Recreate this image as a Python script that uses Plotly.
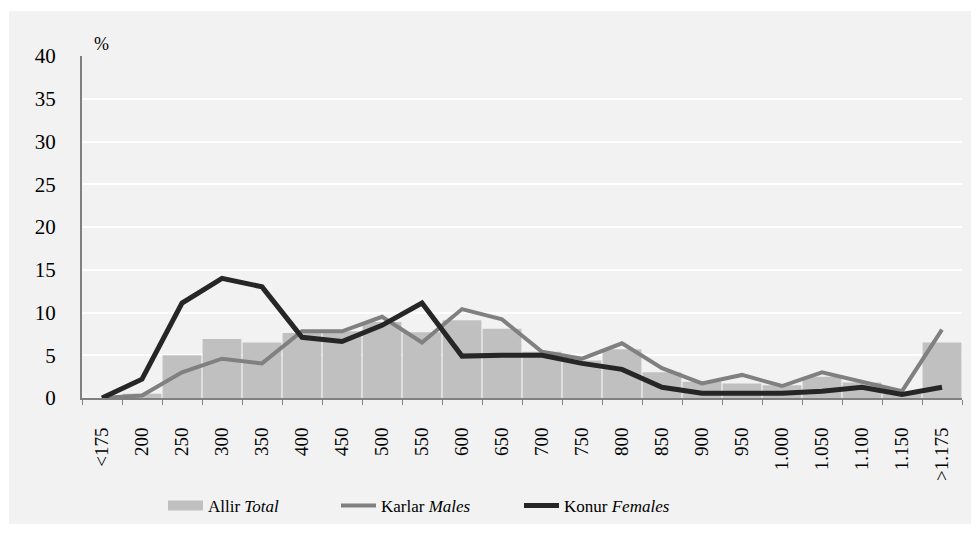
import plotly.graph_objects as go

categories = ["<175", "200", "250", "300", "350", "400", "450", "500", "550", "600", "650",
              "700", "750", "800", "850", "900", "950", "1.000", "1.050", "1.100", "1.150", ">1.175"]
total = [0.0, 0.5, 5.0, 6.9, 6.5, 7.6, 7.8, 8.9, 7.7, 9.1, 8.1,
         5.4, 4.4, 5.7, 3.0, 1.9, 1.7, 1.5, 2.5, 1.8, 0.5, 6.5]
males = [0.0, 0.3, 3.0, 4.6, 4.05, 7.8, 7.8, 9.5, 6.5, 10.4, 9.2,
         5.4, 4.6, 6.4, 3.5, 1.7, 2.7, 1.4, 3.0, 1.9, 0.8, 8.0]
females = [0.0, 2.2, 11.1, 14.0, 13.0, 7.1, 6.6, 8.5, 11.1, 4.9, 5.0,
           5.0, 4.05, 3.35, 1.25, 0.55, 0.55, 0.55, 0.8, 1.25, 0.4, 1.25]

FONT = "Liberation Serif"

fig = go.Figure()
fig.add_trace(go.Bar(x=categories, y=total, marker=dict(color="#c0c0c0", line=dict(width=0)),
                     showlegend=False, hoverinfo="y"))
fig.add_trace(go.Scatter(x=[None], y=[None], mode="lines", name="Allir <i>Total</i>",
                         line=dict(color="#c0c0c0", width=10), legendwidth=123))
fig.add_trace(go.Scatter(x=categories, y=males, mode="lines", name="Karlar <i>Males</i>",
                         line=dict(color="#808080", width=4), legendwidth=133))
fig.add_trace(go.Scatter(x=categories, y=females, mode="lines", name="Konur <i>Females</i>",
                         line=dict(color="#262626", width=5), legendwidth=126))

# page has an 8px body margin; figure is placed at (8, 8)
OFF = 8
W, H = 979 - OFF, 533 - OFF
L, R, T, B = 82 - OFF, 17, 56 - OFF, 135
pw, ph = W - L - R, H - T - B

def px_x(x):
    return (x - OFF - L) / pw

def px_y(y):
    return (H - B - (y - OFF)) / ph

fig.update_layout(
    width=W, height=H,
    margin=dict(l=L, r=R, t=T, b=B, autoexpand=False),
    paper_bgcolor="white",
    plot_bgcolor="#d9d9d9",
    bargap=0.03,
    font=dict(family=FONT, color="#000000", size=18),
    showlegend=True,
    legend=dict(orientation="h", x=px_x(163), xanchor="left", y=px_y(488), yanchor="top",
                font=dict(family=FONT, size=17), bgcolor="rgba(0,0,0,0)",
                itemwidth=35, traceorder="normal"),
    xaxis=dict(type="category", showline=True, linecolor="#808080", linewidth=2,
               ticks="outside", tickson="boundaries", ticklen=5, tickcolor="#808080",
               tickangle=-90, tickfont=dict(family=FONT, size=19), showgrid=False,
               ticklabelstandoff=20, automargin=False),
    yaxis=dict(range=[0, 40], dtick=5, showgrid=True, gridcolor="white", gridwidth=2,
               showline=True, linecolor="#808080", linewidth=2, zeroline=False,
               ticks="", tickfont=dict(family=FONT, size=21), ticklabelstandoff=20,
               automargin=False),
    shapes=[dict(type="rect", xref="paper", yref="paper", layer="below",
                 x0=px_x(9), x1=px_x(985), y0=px_y(524), y1=px_y(11),
                 fillcolor="#f2f2f2", line=dict(width=0))],
    annotations=[dict(text="%", xref="paper", yref="paper", x=px_x(92), y=px_y(44),
                      xanchor="left", yanchor="middle", showarrow=False,
                      font=dict(family=FONT, size=18))],
)

fig.write_html("out.html")
